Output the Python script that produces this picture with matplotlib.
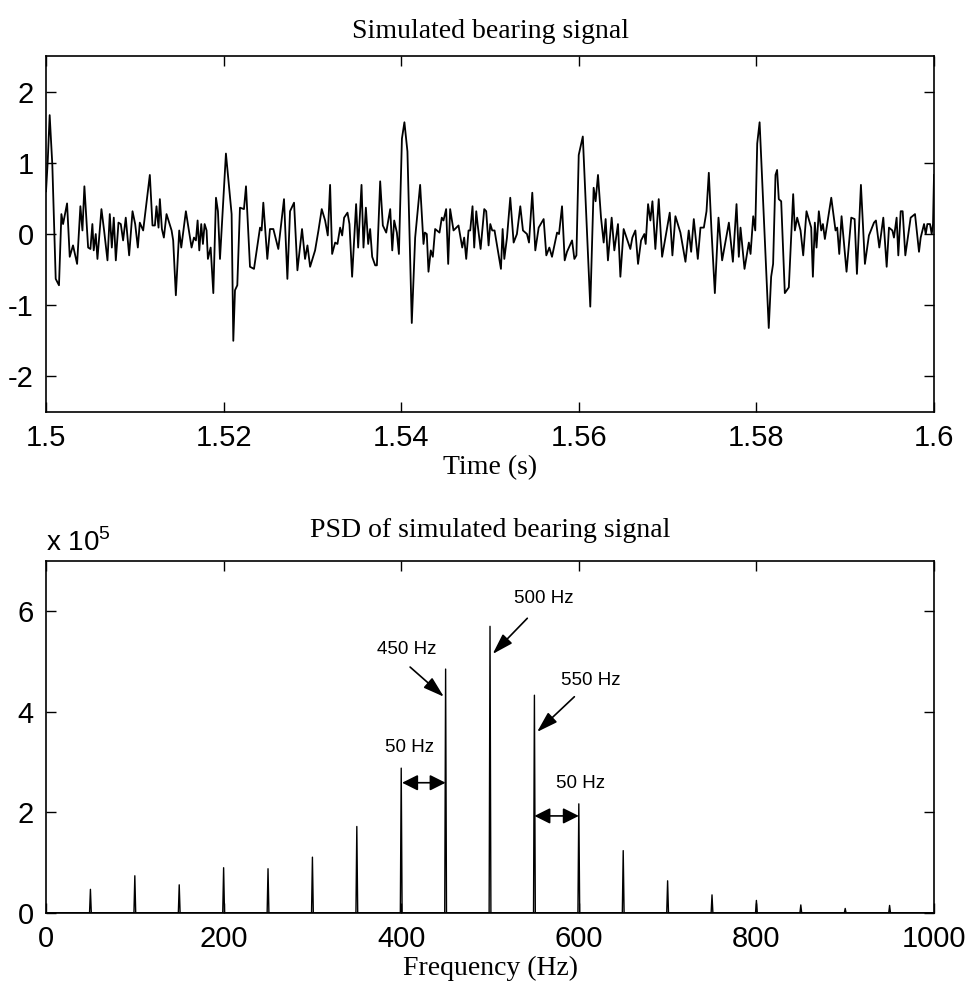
import numpy as np
import matplotlib
matplotlib.use("Agg")
import matplotlib.pyplot as plt
from matplotlib.ticker import FuncFormatter

plt.rcParams['font.family'] = ['Liberation Sans', 'DejaVu Sans']
plt.rcParams['mathtext.fontset'] = 'custom'
plt.rcParams['mathtext.rm'] = 'Liberation Sans'
plt.rcParams['axes.unicode_minus'] = False

# ---------------- data: simulated bearing signal (time in s, amplitude) ----------------
time_s = [
    1.5000, 1.50019, 1.50041, 1.50071, 1.50109, 1.50146, 1.50173, 1.50192, 1.50237, 1.50267,
    1.50304, 1.50350, 1.50387, 1.50410, 1.50432, 1.50474, 1.50500, 1.50522, 1.50537, 1.50560,
    1.50579, 1.50624, 1.50654, 1.50692, 1.50718, 1.50741, 1.50763, 1.50786, 1.50816, 1.50842,
    1.50868, 1.50898, 1.50936, 1.50974, 1.51004, 1.51034, 1.51056, 1.51094, 1.51169, 1.51199,
    1.51226, 1.51244, 1.51267, 1.51282, 1.51305, 1.51327, 1.51357, 1.51414, 1.51432, 1.51462,
    1.51500, 1.51523, 1.51575, 1.51639, 1.51666, 1.51688, 1.51707, 1.51726, 1.51748, 1.51767,
    1.51786, 1.51808, 1.51823, 1.51854, 1.51884, 1.51914, 1.51936, 1.51959,
    1.52026, 1.52090, 1.52109, 1.52128, 1.52154, 1.52184, 1.52229, 1.52252, 1.52297, 1.52342,
    1.52410, 1.52428, 1.52447, 1.52492, 1.52522, 1.52560, 1.52616, 1.52680, 1.52718, 1.52748,
    1.52793, 1.52831, 1.52883, 1.52917, 1.52944, 1.52974, 1.53030, 1.53068, 1.53105, 1.53143,
    1.53173, 1.53199, 1.53222, 1.53256, 1.53282, 1.53312, 1.53335, 1.53357, 1.53395, 1.53417,
    1.53447, 1.53492, 1.53515, 1.53553, 1.53575, 1.53602, 1.53628, 1.53650, 1.53673, 1.53707,
    1.53726, 1.53763, 1.53793, 1.53831, 1.53876, 1.53899, 1.53921, 1.53951, 1.53974, 1.54008,
    1.54036, 1.54070, 1.54119, 1.54157, 1.54213, 1.54251, 1.54266, 1.54288, 1.54307, 1.54333,
    1.54356, 1.54382, 1.54431, 1.54457, 1.54476, 1.54506, 1.54529, 1.54551, 1.54589, 1.54645,
    1.54687, 1.54709, 1.54732, 1.54758, 1.54777, 1.54803, 1.54822, 1.54845, 1.54860, 1.54894,
    1.54935, 1.54957, 1.54984, 1.55003, 1.55025, 1.55051, 1.55123, 1.55142, 1.55161, 1.55191,
    1.55228, 1.55266, 1.55303, 1.55341, 1.55371, 1.55416, 1.55439, 1.55476, 1.55510, 1.55548,
    1.55604, 1.55634, 1.55668, 1.55698, 1.55755, 1.55777, 1.55811, 1.55841, 1.55867, 1.55924,
    1.55950, 1.55973, 1.55999, 1.56045,
    1.56129, 1.56167, 1.56189, 1.56216, 1.56250, 1.56280, 1.56302, 1.56328, 1.56370, 1.56400,
    1.56441, 1.56468, 1.56505, 1.56580, 1.56603, 1.56637, 1.56667, 1.56701, 1.56738, 1.56753,
    1.56780, 1.56806, 1.56829, 1.56862, 1.56900, 1.56938, 1.56975, 1.57024, 1.57054, 1.57088,
    1.57144, 1.57201, 1.57238, 1.57265, 1.57295, 1.57340, 1.57370, 1.57408, 1.57438, 1.57464,
    1.57494, 1.57532, 1.57573, 1.57614, 1.57690, 1.57735, 1.57776, 1.57802, 1.57821, 1.57866,
    1.57915, 1.57934, 1.57964, 1.57987, 1.58009, 1.58036,
    1.58139, 1.58166, 1.58188, 1.58215, 1.58233, 1.58252, 1.58279, 1.58320, 1.58365, 1.58414,
    1.58433, 1.58459, 1.58497, 1.58527, 1.58564, 1.58617, 1.58636, 1.58658, 1.58677, 1.58703,
    1.58730, 1.58749, 1.58771, 1.58843, 1.58891, 1.58910, 1.58933, 1.58959, 1.59015, 1.59068,
    1.59106, 1.59132, 1.59177, 1.59222, 1.59267, 1.59324, 1.59346, 1.59384, 1.59429, 1.59467,
    1.59493, 1.59531, 1.59549, 1.59579, 1.59598, 1.59625, 1.59647, 1.59677, 1.59737, 1.59786,
    1.59831, 1.59850, 1.59888, 1.59907, 1.59925, 1.59955, 1.59974, 1.59989, 1.60000,
]
amplitude = [
    0.60, 1.02, 1.67, 0.97, -0.63, -0.72, 0.28, 0.14, 0.43, -0.32,
    -0.16, -0.42, 0.39, 0.05, 0.67, -0.19, -0.21, 0.14, -0.23, 0.00,
    -0.35, 0.35, 0.05, -0.37, 0.28, -0.19, 0.23, -0.37, 0.16, 0.14,
    -0.09, 0.23, -0.30, 0.32, 0.14, -0.19, 0.16, 0.05, 0.83, 0.12,
    0.12, 0.39, 0.09, 0.49, 0.07, -0.05, 0.28, 0.05, -0.09, -0.86,
    0.05, -0.19, 0.32, -0.19, -0.05, -0.09, 0.19, -0.23, 0.14, -0.14,
    0.14, 0.05, -0.35, -0.19, -0.83, 0.51, 0.32, -0.35,
    1.13, 0.28, -1.50, -0.79, -0.72, 0.37, 0.35, 0.67, -0.46, -0.49,
    0.09, 0.05, 0.44, -0.35, 0.07, 0.07, -0.21, 0.49, -0.63, 0.32,
    0.44, -0.51, 0.07, -0.35, -0.16, -0.46, -0.23, 0.05, 0.35, 0.19,
    -0.02, 0.69, -0.28, -0.12, -0.14, 0.09, -0.02, 0.23, 0.30, 0.14,
    -0.60, 0.42, -0.19, 0.69, -0.19, 0.37, -0.14, 0.07, -0.32, -0.44,
    -0.44, 0.74, 0.12, 0.02, 0.35, -0.23, 0.19, 0.02, -0.28, 1.34,
    1.57, 1.16, -1.25, -0.05, 0.69, -0.14, 0.02, 0.00, -0.53, -0.23,
    -0.32, 0.07, 0.02, 0.23, 0.19, 0.35, -0.42, 0.35, 0.05, 0.12,
    -0.19, -0.05, -0.35, 0.05, 0.05, 0.39, -0.19, 0.32, 0.14, -0.21,
    0.35, 0.32, -0.16, 0.14, 0.05, 0.05, -0.49, 0.07, -0.35, -0.05,
    0.51, -0.12, 0.00, 0.39, 0.05, 0.00, -0.12, 0.58, -0.23, 0.09,
    0.21, -0.30, -0.19, -0.32, 0.02, 0.00, 0.39, -0.37, -0.25, -0.09,
    -0.35, -0.30, 1.11, 1.37,
    -1.02, 0.65, 0.46, 0.83, 0.23, -0.12, 0.21, -0.37, 0.23, -0.23,
    0.14, -0.60, 0.07, -0.21, -0.05, 0.05, -0.42, -0.09, 0.00, -0.14,
    0.42, 0.19, 0.46, -0.21, 0.49, -0.32, -0.05, 0.30, -0.30, 0.25,
    0.02, -0.39, 0.05, -0.25, 0.21, -0.35, 0.09, 0.09, 0.32, 0.86,
    0.05, -0.83, 0.23, -0.37, 0.16, -0.39, 0.42, -0.32, 0.09, -0.49,
    -0.12, -0.28, 0.25, 0.05, 1.27, 1.57,
    -1.32, -0.60, -0.42, 0.83, 0.90, 0.49, 0.46, -0.83, -0.75, 0.56,
    0.05, 0.23, 0.05, -0.30, 0.32, 0.09, -0.60, 0.16, -0.19, 0.32,
    0.05, 0.14, -0.07, 0.51, 0.05, 0.09, -0.28, 0.25, -0.53, 0.23,
    0.21, -0.56, 0.69, -0.42, -0.02, 0.16, 0.19, -0.19, 0.23, -0.46,
    0.09, 0.05, -0.05, 0.23, -0.30, 0.32, 0.32, -0.30, 0.23, 0.28,
    -0.25, -0.05, 0.14, 0.00, 0.14, 0.14, 0.00, 0.14, 0.83,
]

# ---------------- data: PSD spectral lines ----------------
line_freqs = [50, 100, 150, 200, 250, 300, 350, 400, 450, 500,
              550, 600, 650, 700, 750, 800, 850, 900, 950]
line_psd = [0.47e5, 0.74e5, 0.56e5, 0.90e5, 0.88e5, 1.11e5, 1.72e5, 2.88e5, 4.85e5, 5.70e5,
            4.33e5, 2.17e5, 1.24e5, 0.64e5, 0.36e5, 0.25e5, 0.16e5, 0.09e5, 0.15e5]

time_ticks = [1.5, 1.52, 1.54, 1.56, 1.58, 1.6]
amp_ticks = [-2, -1, 0, 1, 2]
freq_ticks = [0, 200, 400, 600, 800, 1000]
psd_ticks = [0, 2e5, 4e5, 6e5]

# frequency grid (1 Hz resolution) holding the spectral lines
freq = np.arange(0, 1001, 1.0)
psd = np.zeros_like(freq)
for f, p in zip(line_freqs, line_psd):
    psd[int(f)] = p

SERIF = ['Liberation Serif', 'DejaVu Serif']

fig = plt.figure(figsize=(9.71, 9.99), dpi=100)
ax1 = fig.add_axes([0.0474, 0.5876, 0.9145, 0.3563])
ax2 = fig.add_axes([0.0474, 0.0861, 0.9145, 0.3524])

# ---- top: time signal ----
ax1.plot(time_s, amplitude, color='black', lw=1.3)
ax1.set_xlim(1.5, 1.6)
ax1.set_ylim(-2.5, 2.5)
ax1.set_xticks(time_ticks)
ax1.set_yticks(amp_ticks)
ax1.xaxis.set_major_formatter(FuncFormatter(lambda x, p: f'{round(x, 3):g}'))
ax1.set_title('Simulated bearing signal', family=SERIF, fontsize=20, pad=13)
ax1.set_xlabel('Time (s)', family=SERIF, fontsize=20, labelpad=2)

# ---- bottom: PSD ----
ax2.plot(freq, psd, color='black', lw=1.0)
ax2.plot([0, 1000], [0, 0], color='black', lw=2.0)
ax2.set_xlim(0, 1000)
ax2.set_ylim(0, 7e5)
ax2.set_xticks(freq_ticks)
ax2.set_yticks(psd_ticks)
ax2.yaxis.set_major_formatter(FuncFormatter(lambda y, p: f'{y / 1e5:g}'))
ax2.set_title('PSD of simulated bearing signal', family=SERIF, fontsize=20, pad=17)
ax2.set_xlabel('Frequency (Hz)', family=SERIF, fontsize=20, labelpad=2)
ax2.text(0.0, 1.012, r'x 10$^{5}$', transform=ax2.transAxes, fontsize=20,
         ha='left', va='bottom')

for ax in (ax1, ax2):
    ax.tick_params(direction='in', length=7, width=1.0, top=True, right=True,
                   labelsize=21, pad=9)
    for s in ax.spines.values():
        s.set_linewidth(1.2)
        s.set_color('black')

# annotations
afs = 13.5
arrow_kw = dict(arrowstyle='-|>,head_length=0.8,head_width=0.25', color='black', lw=1.2,
                mutation_scale=16, shrinkA=0, shrinkB=0)
darrow_kw = dict(arrowstyle='<|-|>,head_length=0.6,head_width=0.3', color='black', lw=1.2,
                 mutation_scale=16, shrinkA=0, shrinkB=0)

ax2.text(406, 5.23e5, '450 Hz', fontsize=afs, ha='center', va='center')
ax2.annotate('', xy=(448, 4.30e5), xytext=(410, 4.89e5), arrowprops=arrow_kw)
ax2.text(561, 6.25e5, '500 Hz', fontsize=afs, ha='center', va='center')
ax2.annotate('', xy=(503, 5.15e5), xytext=(542, 5.86e5), arrowprops=arrow_kw)
ax2.text(614, 4.63e5, '550 Hz', fontsize=afs, ha='center', va='center')
ax2.annotate('', xy=(553, 3.60e5), xytext=(595, 4.30e5), arrowprops=arrow_kw)
ax2.text(409, 3.29e5, '50 Hz', fontsize=afs, ha='center', va='center')
ax2.annotate('', xy=(450, 2.59e5), xytext=(401, 2.59e5), arrowprops=darrow_kw)
ax2.text(602, 2.57e5, '50 Hz', fontsize=afs, ha='center', va='center')
ax2.annotate('', xy=(600, 1.93e5), xytext=(550, 1.93e5), arrowprops=darrow_kw)

fig.savefig('out.png', dpi=100)
